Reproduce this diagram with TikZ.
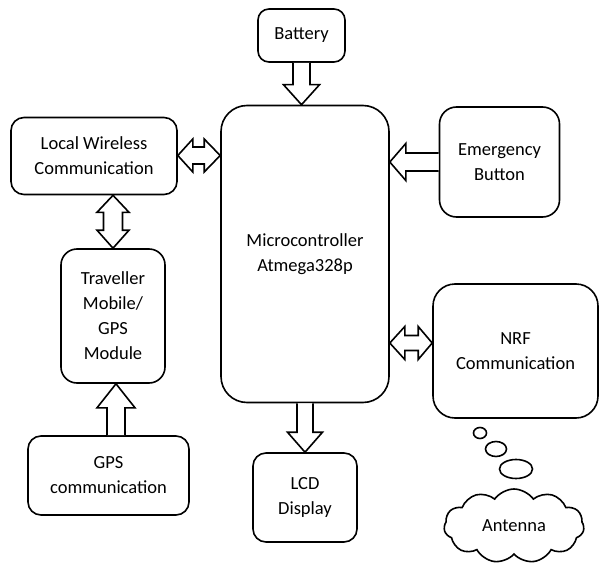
\documentclass[tikz,border=0pt]{standalone}
\usepackage{fontspec}
\setmainfont{Carlito}
\usetikzlibrary{calc,shapes.symbols,shapes.geometric}
\tikzset{
  blk/.style={draw, line width=1.6pt, rounded corners=#1, align=center, inner sep=0pt,
    font=\fontsize{18.5}{25}\selectfont},
  blk/.default=12pt,
  barrow/.style={draw, line width=1.6pt, fill=white, line join=miter},
  bubble/.style={draw, line width=1.6pt}
}
\begin{document}
\begin{tikzpicture}[x=1pt,y=-1pt]
\useasboundingbox (0,0) rectangle (599,567);
% boxes
\node[blk=11pt, minimum width=87pt, minimum height=53pt] (bat) at (301.5,35.5) {Battery};
\node[blk=13pt, minimum width=166pt, minimum height=77pt] (lw) at (94,156) {Local Wireless\\Communication};
\node[blk=26pt, minimum width=168pt, minimum height=297pt] (mc) at (305,254) {Microcontroller\\Atmega328p};
\node[blk=17pt, minimum width=120pt, minimum height=110pt] (em) at (499.5,162) {Emergency\\Button};
\node[blk=16pt, minimum width=104pt, minimum height=134pt] (tr) at (113,316) {Traveller\\Mobile/\\GPS\\Module};
\node[blk=22pt, minimum width=165pt, minimum height=134pt] (nrf) at (515.5,351) {NRF\\Communication};
\node[blk=13pt, minimum width=161pt, minimum height=79pt] (gps) at (108.5,475.5) {GPS\\communication};
\node[blk=13pt, minimum width=104pt, minimum height=89pt] (lcd) at (305,497.5) {LCD\\Display};
% cloud and thought bubbles
\node[cloud, draw, line width=1.6pt, cloud puffs=11, cloud puff arc=110, aspect=1.9,
  minimum width=140pt, minimum height=74pt, inner sep=0pt,
  font=\fontsize{18.5}{25}\selectfont] (ant) at (514,526) {Antenna};
\draw[bubble] (480,433) ellipse (6.5 and 5.5);
\draw[bubble] (496,449) ellipse (10.5 and 7.5);
\draw[bubble] (516,469) ellipse (16.5 and 9.5);
% Battery -> MC
\coordinate (b1) at ($(bat.south)+(0,0)$);
\coordinate (b2) at (bat.south |- mc.north);
\draw[barrow] ($(b1)+(-8.5,0)$) -- ($(b2)+(-8.5,-20)$) -- ($(b2)+(-18,-20)$) -- (b2)
  -- ($(b2)+(18,-20)$) -- ($(b2)+(8.5,-20)$) -- ($(b1)+(8.5,0)$);
% LW <-> MC
\coordinate (l1) at ($(lw.east)+(0,-0.5)$);
\coordinate (l2) at (l1 -| mc.west);
\draw[barrow] (l1) -- ($(l1)+(15,-16.5)$) -- ($(l1)+(15,-8.5)$) -- ($(l2)+(-16,-8.5)$)
  -- ($(l2)+(-16,-16.5)$) -- (l2) -- ($(l2)+(-16,16.5)$) -- ($(l2)+(-16,8.5)$)
  -- ($(l1)+(15,8.5)$) -- ($(l1)+(15,16.5)$) -- cycle;
% LW <-> TR
\coordinate (t1) at (tr.north |- lw.south);
\coordinate (t2) at (tr.north);
\draw[barrow] (t1) -- ($(t1)+(16,17)$) -- ($(t1)+(9.5,17)$) -- ($(t2)+(9.5,-18)$)
  -- ($(t2)+(16,-18)$) -- (t2) -- ($(t2)+(-16,-18)$) -- ($(t2)+(-9.5,-18)$)
  -- ($(t1)+(-9.5,17)$) -- ($(t1)+(-16,17)$) -- cycle;
% GPS -> TR
\coordinate (g1) at ($(gps.north)+(7.5,0)$);
\coordinate (g2) at (g1 |- tr.south);
\draw[barrow] ($(g1)+(-9,0)$) -- ($(g2)+(-9,24)$) -- ($(g2)+(-19,24)$) -- (g2)
  -- ($(g2)+(19,24)$) -- ($(g2)+(9,24)$) -- ($(g1)+(9,0)$);
% MC -> LCD
\coordinate (c2) at (lcd.north);
\coordinate (c1) at (c2 |- mc.south);
\draw[barrow] ($(c1)+(-8,0)$) -- ($(c2)+(-8,-20)$) -- ($(c2)+(-17.5,-20)$) -- (c2)
  -- ($(c2)+(17.5,-20)$) -- ($(c2)+(8,-20)$) -- ($(c1)+(8,0)$);
% EM -> MC
\coordinate (e1) at (em.west);
\coordinate (e2) at (e1 -| mc.east);
\draw[barrow] ($(e1)+(0,-9)$) -- ($(e2)+(16,-9)$) -- ($(e2)+(16,-18.5)$) -- (e2)
  -- ($(e2)+(16,18.5)$) -- ($(e2)+(16,9)$) -- ($(e1)+(0,9)$);
% MC <-> NRF
\coordinate (n2) at ($(nrf.west)+(0,-8)$);
\coordinate (n1) at (n2 -| mc.east);
\draw[barrow] (n1) -- ($(n1)+(15,-16.5)$) -- ($(n1)+(15,-7.5)$) -- ($(n2)+(-14,-7.5)$)
  -- ($(n2)+(-14,-16.5)$) -- (n2) -- ($(n2)+(-14,16.5)$) -- ($(n2)+(-14,7.5)$)
  -- ($(n1)+(15,7.5)$) -- ($(n1)+(15,16.5)$) -- cycle;
\end{tikzpicture}
\end{document}
